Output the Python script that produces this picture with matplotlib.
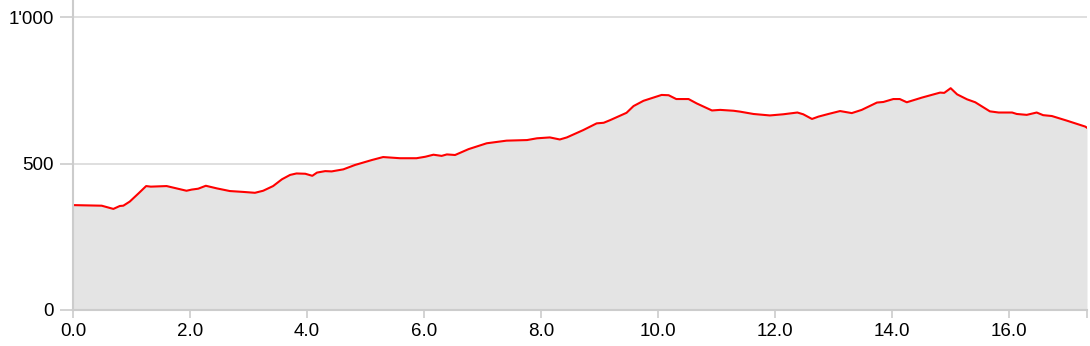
import matplotlib
matplotlib.use('Agg')
import matplotlib.pyplot as plt

# distance (km) and elevation (m)
dist = [0.00, 0.49, 0.69, 0.80, 0.86, 0.97, 1.12, 1.25, 1.33, 1.60, 1.77, 1.94, 2.03, 2.14,
        2.27, 2.46, 2.68, 2.91, 3.11, 3.25, 3.42, 3.57, 3.71, 3.82, 3.97, 4.09, 4.17, 4.31,
        4.42, 4.62, 4.82, 5.11, 5.30, 5.59, 5.87, 6.02, 6.16, 6.30, 6.39, 6.53, 6.76, 7.07,
        7.41, 7.76, 7.93, 8.15, 8.32, 8.44, 8.72, 8.95, 9.07, 9.18, 9.46, 9.58, 9.75, 9.92,
        10.06, 10.18, 10.31, 10.52, 10.66, 10.92, 11.06, 11.29, 11.40, 11.63, 11.91, 12.14,
        12.38, 12.48, 12.63, 12.74, 12.91, 13.11, 13.31, 13.48, 13.74, 13.85, 14.02, 14.13,
        14.25, 14.51, 14.71, 14.82, 14.89, 15.00, 15.11, 15.28, 15.42, 15.67, 15.82, 16.05,
        16.13, 16.30, 16.47, 16.58, 16.73, 16.99, 17.30, 17.33]
elev = [358, 356, 345, 355, 356, 370, 398, 423, 421, 423, 415, 407, 411, 414,
        424, 415, 406, 403, 400, 407, 423, 446, 461, 466, 465, 458, 469, 474,
        473, 480, 495, 512, 522, 518, 518, 523, 530, 526, 531, 529, 549, 569,
        578, 580, 586, 589, 582, 589, 614, 637, 639, 648, 673, 696, 714, 725,
        734, 733, 720, 720, 705, 681, 683, 680, 677, 669, 664, 668,
        674, 668, 652, 660, 669, 679, 672, 683, 708, 710, 720, 720,
        709, 725, 736, 742, 741, 757, 736, 719, 709, 678, 674, 674,
        669, 666, 674, 665, 662, 646, 626, 622]

x_ticks = [0, 2, 4, 6, 8, 10, 12, 14, 16]
y_ticks = [0, 500, 1000]
y_labels = ['0', '500', "1'000"]

plt.rcParams['font.family'] = ['Liberation Sans', 'DejaVu Sans']

fig = plt.figure(figsize=(10.9, 3.46), dpi=100)
ax = fig.add_axes([73 / 1090, 1 - 310 / 346, (1087 - 73) / 1090, 310 / 346])

ax.fill_between(dist, elev, 0, color='#e4e4e4', linewidth=0)
ax.plot(dist, elev, color='red', linewidth=1.5)

ax.set_xlim(0, 17.33)
ax.set_ylim(0, 1000 * 310 / 293)

ax.set_yticks(y_ticks)
ax.set_yticklabels(y_labels)
ax.set_xticks(x_ticks + [17.33])
ax.set_xticklabels(['%.1f' % t for t in x_ticks] + [''])

ax.grid(axis='y', color='#d9d9d9', linewidth=1.2)
ax.set_axisbelow(True)
for s in ['top', 'right']:
    ax.spines[s].set_visible(False)
for s in ['left', 'bottom']:
    ax.spines[s].set_color('#cccccc')
    ax.spines[s].set_linewidth(1.5)

ax.tick_params(axis='y', length=9.5, width=1.2, color='#cccccc', labelsize=13.5, pad=4.5)
ax.tick_params(axis='x', length=6, width=1.2, color='#cccccc', labelsize=13.5, pad=3)

fig.savefig('out.png', dpi=100)
